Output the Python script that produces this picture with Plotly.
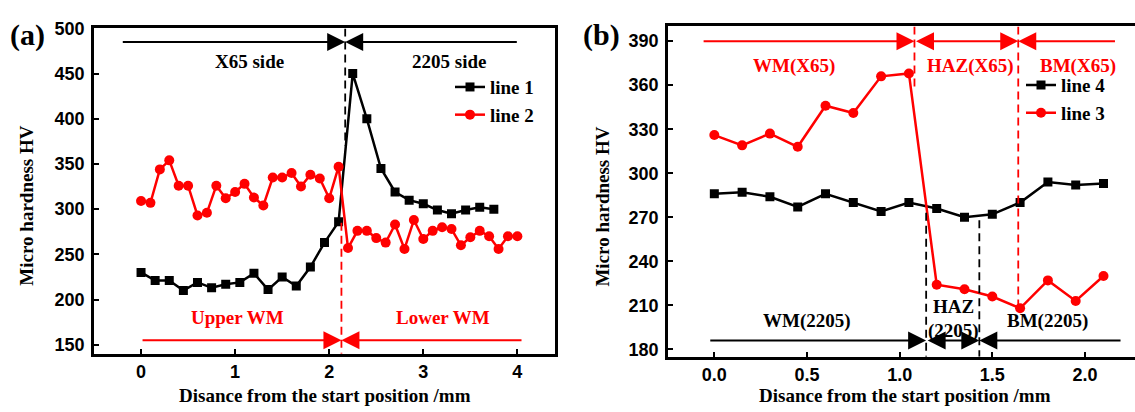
import plotly.graph_objects as go

# ---------------- data ----------------
# panel (a)
x_line1 = [0.0, 0.15, 0.3, 0.45, 0.6, 0.75, 0.9, 1.05, 1.2, 1.35, 1.5, 1.65, 1.8, 1.95,
           2.1, 2.25, 2.4, 2.55, 2.7, 2.85, 3.0, 3.15, 3.3, 3.45, 3.6, 3.75]
y_line1 = [230, 221, 221, 210, 219, 213, 217, 219, 229, 211, 225, 215, 236, 263,
           286, 450, 400, 345, 319, 310, 306, 299, 295, 299, 302, 300]
x_line2 = [0.0, 0.1, 0.2, 0.3, 0.4, 0.5, 0.6, 0.7, 0.8, 0.9, 1.0, 1.1, 1.2, 1.3, 1.4,
           1.5, 1.6, 1.7, 1.8, 1.9, 2.0, 2.1, 2.2, 2.3, 2.4, 2.5, 2.6, 2.7, 2.8, 2.9,
           3.0, 3.1, 3.2, 3.3, 3.4, 3.5, 3.6, 3.7, 3.8, 3.9, 4.0]
y_line2 = [309, 307, 344, 354, 326, 326, 293, 296, 326, 312, 319, 328, 313, 304, 335,
           335, 340, 325, 338, 334, 312, 347, 257, 276, 276, 268, 263, 283, 256, 288,
           267, 276, 280, 278, 260, 269, 276, 270, 256, 270, 270]
# panel (b)
x_b = [0.0, 0.15, 0.3, 0.45, 0.6, 0.75, 0.9, 1.05, 1.2, 1.35, 1.5, 1.65, 1.8, 1.95, 2.1]
y_line4 = [286, 287, 284, 277, 286, 280, 274, 280, 276, 270, 272, 280, 294, 292, 293]
y_line3 = [326, 319, 327, 318, 346, 341, 366, 368, 224, 221, 216, 208, 227, 213, 230]

ticks_a_x = [0, 1, 2, 3, 4]
ticks_a_y = [150, 200, 250, 300, 350, 400, 450, 500]
ticks_b_x = [0.0, 0.5, 1.0, 1.5, 2.0]
ticks_b_xt = ["0.0", "0.5", "1.0", "1.5", "2.0"]
ticks_b_y = [180, 210, 240, 270, 300, 330, 360, 390]

# ---------------- figure ----------------
W, H = 1135, 412
RED = "#ff0000"
BLK = "#000000"
SERIF = "Liberation Serif, Times New Roman, serif"
SANS = "Liberation Sans, Arial, sans-serif"

def B(s):
    return "<b>" + str(s) + "</b>"

def px_x(p):
    return p / W

def px_y(p):
    return 1 - p / H

fig = go.Figure()

fig.add_trace(go.Scatter(x=x_line1, y=y_line1, mode="lines+markers", name=B("line 1"),
                         line=dict(color=BLK, width=2.5),
                         marker=dict(symbol="square", size=9, color=BLK),
                         xaxis="x", yaxis="y", legend="legend"))
fig.add_trace(go.Scatter(x=x_line2, y=y_line2, mode="lines+markers", name=B("line 2"),
                         line=dict(color=RED, width=2.5),
                         marker=dict(symbol="circle", size=10, color=RED),
                         xaxis="x", yaxis="y", legend="legend"))
fig.add_trace(go.Scatter(x=x_b, y=y_line4, mode="lines+markers", name=B("line 4"),
                         line=dict(color=BLK, width=2.5),
                         marker=dict(symbol="square", size=9, color=BLK),
                         xaxis="x2", yaxis="y2", legend="legend2"))
fig.add_trace(go.Scatter(x=x_b, y=y_line3, mode="lines+markers", name=B("line 3"),
                         line=dict(color=RED, width=2.5),
                         marker=dict(symbol="circle", size=10, color=RED),
                         xaxis="x2", yaxis="y2", legend="legend2"))

axis_common = dict(showgrid=False, zeroline=False, showline=True, linecolor=BLK,
                   linewidth=2.5, ticks="inside", ticklen=5, tickwidth=2,
                   tickcolor=BLK, tickfont=dict(family=SANS, size=18, color=BLK))

fig.update_layout(
    width=W, height=H,
    margin=dict(l=0, r=0, t=0, b=0),
    paper_bgcolor="white", plot_bgcolor="white",
    showlegend=True,
    xaxis=dict(axis_common, domain=[px_x(94), px_x(555)], range=[-0.5, 4.4],
               tickvals=ticks_a_x, ticktext=[B(v) for v in ticks_a_x],
               mirror=True, anchor="y", ticklabelstandoff=0),
    yaxis=dict(axis_common, domain=[px_y(355), px_y(19)], range=[140, 500],
               tickvals=ticks_a_y, ticktext=[B(v) for v in ticks_a_y],
               mirror=True, anchor="x", ticklabelstandoff=3),
    xaxis2=dict(axis_common, domain=[px_x(668), 1.0], range=[-0.25, 2.27],
                tickvals=ticks_b_x, ticktext=[B(v) for v in ticks_b_xt],
                mirror=True, anchor="y2", ticklabelstandoff=0),
    yaxis2=dict(axis_common, domain=[px_y(358), px_y(17)], range=[175, 400],
                tickvals=ticks_b_y, ticktext=[B(v) for v in ticks_b_y],
                mirror=False, anchor="x2", ticklabelstandoff=3),
    legend=dict(x=px_x(450), y=px_y(60), xanchor="left", yanchor="top",
                bgcolor="rgba(0,0,0,0)", borderwidth=0, tracegroupgap=0,
                font=dict(family=SERIF, size=19, color=BLK)),
    legend2=dict(x=px_x(1021), y=px_y(58), xanchor="left", yanchor="top",
                 bgcolor="rgba(0,0,0,0)", borderwidth=0, tracegroupgap=0,
                 font=dict(family=SERIF, size=19, color=BLK)),
)

shapes = []
def vdash(xref, yref, x, y0, y1, color):
    shapes.append(dict(type="line", xref=xref, yref=yref, x0=x, x1=x, y0=y0, y1=y1,
                       line=dict(color=color, width=1.8, dash="8px,5px")))

vdash("x", "y", 2.17, 500, 370, BLK)
vdash("x", "y", 2.13, 285, 140, RED)
vdash("x2", "y2", 1.08, 400, 357, RED)
vdash("x2", "y2", 1.64, 400, 208, RED)
vdash("x2", "y2", 1.143, 273, 175, BLK)
vdash("x2", "y2", 1.43, 268, 175, BLK)
fig.update_layout(shapes=shapes)

ann = []
def arrow(xr, yr, x0, x1, y, color, side="end"):
    # arrow tail at x0, head at x1
    ann.append(dict(xref=xr, yref=yr, axref=xr, ayref=yr, x=x1, y=y, ax=x0, ay=y,
                    text="", showarrow=True, arrowhead=2, startarrowhead=2,
                    arrowsize=1.8, startarrowsize=1.8, arrowwidth=2,
                    arrowcolor=color, arrowside=side, standoff=0, startstandoff=0))

def txt(xr, yr, x, y, s, color, size=19, family=SERIF, angle=0):
    ann.append(dict(xref=xr, yref=yr, x=x, y=y, text=B(s), showarrow=False,
                    textangle=angle, xanchor="center", yanchor="middle",
                    font=dict(family=family, size=size, color=color)))

# panel (a)
arrow("x", "y", -0.21, 2.17, 485, BLK)
arrow("x", "y", 4.01, 2.17, 485, BLK)
txt("x", "y", 1.15, 463, "X65 side", BLK)
txt("x", "y", 3.27, 463, "2205 side", BLK)
arrow("x", "y", 0.0, 2.13, 155, RED)
arrow("x", "y", 4.06, 2.13, 155, RED)
txt("x", "y", 1.02, 180, "Upper WM", RED)
txt("x", "y", 3.21, 180, "Lower WM", RED)

# panel (b)
arrow("x2", "y2", -0.066, 1.08, 390, RED)
arrow("x2", "y2", 1.08, 1.64, 390, RED, side="end+start")
arrow("x2", "y2", 2.17, 1.64, 390, RED)
txt("x2", "y2", 0.43, 373, "WM(X65)", RED)
txt("x2", "y2", 1.38, 373, "HAZ(X65)", RED)
txt("x2", "y2", 1.96, 373, "BM(X65)", RED)
arrow("x2", "y2", -0.03, 1.143, 186, BLK)
arrow("x2", "y2", 1.143, 1.43, 186, BLK, side="end+start")
arrow("x2", "y2", 2.2, 1.43, 186, BLK)
txt("x2", "y2", 0.5, 199, "WM(2205)", BLK)
txt("x2", "y2", 1.29, 209, "HAZ", BLK)
txt("x2", "y2", 1.29, 192.5, "(2205)", BLK)
txt("x2", "y2", 1.8, 199, "BM(2205)", BLK)

# axis titles and panel labels (paper coords)
txt("paper", "paper", px_x(27), px_y(202), "Micro hardness HV", BLK, angle=-90)
txt("paper", "paper", px_x(603), px_y(203), "Micro hardness HV", BLK, angle=-90)
txt("paper", "paper", px_x(325), px_y(398), "Disance from the start position /mm", BLK)
txt("paper", "paper", px_x(905), px_y(398), "Disance from the start position /mm", BLK)
txt("paper", "paper", px_x(27), px_y(26), "(a)", BLK, size=30)
txt("paper", "paper", px_x(601), px_y(26), "(b)", BLK, size=30)

fig.update_layout(annotations=ann)

fig.write_html("out.html")
